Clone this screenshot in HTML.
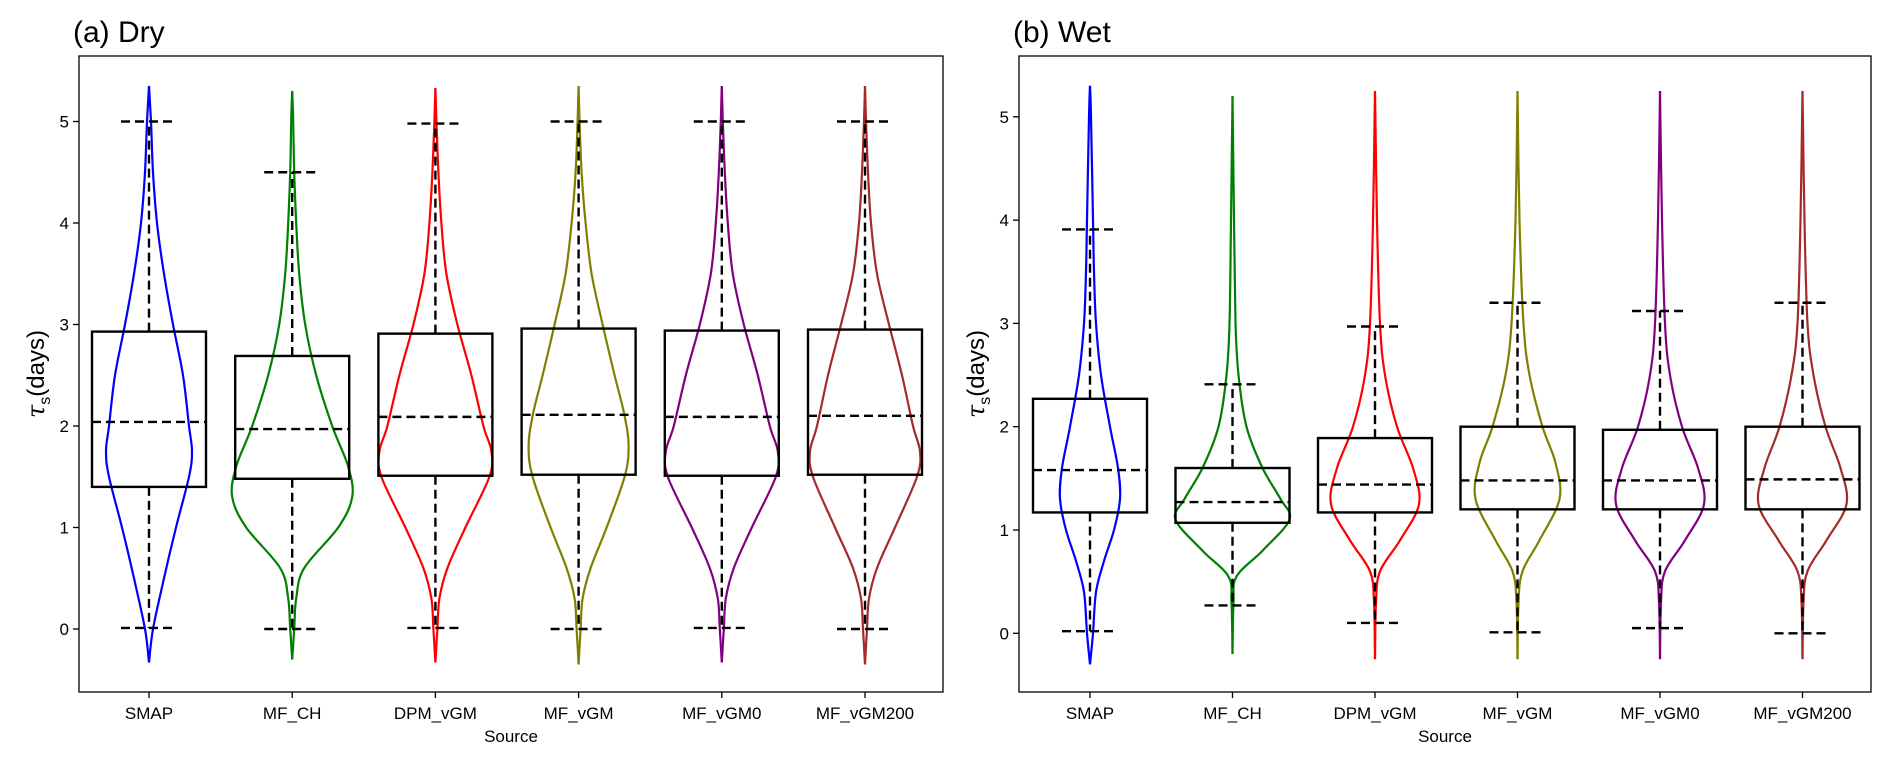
<!DOCTYPE html>
<html><head><meta charset="utf-8">
<style>
body{margin:0;background:#fff;}
svg{display:block;font-family:"Liberation Sans","DejaVu Sans",sans-serif;}
</style></head>
<body>
<svg id="fig" width="1892" height="767" viewBox="0 0 1892 767"></svg>
<script>
const categories = ["SMAP","MF_CH","DPM_vGM","MF_vGM","MF_vGM0","MF_vGM200"];
const colors = ["#0000ff","#008000","#ff0000","#808000","#800080","#a52a2a"];
// Dry panel box stats
const dryQ1 = [1.40,1.48,1.51,1.52,1.51,1.52];
const dryMed = [2.04,1.97,2.09,2.11,2.09,2.10];
const dryQ3 = [2.93,2.69,2.91,2.96,2.94,2.95];
const dryLo = [0.01,0.00,0.01,0.00,0.01,0.00];
const dryHi = [5.00,4.50,4.98,5.00,5.00,5.00];
// Wet panel box stats
const wetQ1 = [1.17,1.07,1.17,1.20,1.20,1.20];
const wetMed = [1.58,1.27,1.44,1.48,1.48,1.49];
const wetQ3 = [2.27,1.60,1.89,2.00,1.97,2.00];
const wetLo = [0.02,0.27,0.10,0.01,0.05,0.00];
const wetHi = [3.91,2.41,2.97,3.20,3.12,3.20];
// Violin density profiles: value levels and relative half-widths
const dryVY = [
 [-0.33,0,0.5,1,1.5,1.75,2,2.5,3,3.5,4,4.5,5,5.35],
 [-0.3,0,0.3,0.6,1,1.3,1.6,2,2.5,3,3.5,4,4.5,5,5.3],
 [-0.33,0,0.3,0.6,1,1.5,1.75,2,2.5,3,3.5,4,4.5,5,5.33],
 [-0.35,0,0.3,0.6,1,1.5,1.8,2.1,2.5,3,3.5,4,4.5,5,5.35],
 [-0.33,0,0.3,0.6,1,1.5,1.75,2,2.5,3,3.5,4,4.5,5,5.35],
 [-0.35,0,0.3,0.6,1,1.5,1.75,2,2.5,3,3.5,4,4.5,5,5.35]];
const dryVW = [
 [0,4,15,27,40,43,40,34,24,15,8,4,2,0],
 [0,2,4,12,46,60,56,40,24,13,7,4,2,1,0],
 [0,2,4,12,30,54,56,48,36,22,11,6,3,1,0],
 [0,2,4,12,28,46,50,46,36,24,13,7,3,1,0],
 [0,2,4,12,30,54,56,48,36,22,11,6,3,1,0],
 [0,2,4,12,30,52,55,48,37,24,12,6,3,1,0]];
const wetVY = [
 [-0.3,0,0.4,0.7,1,1.3,1.6,2,2.5,3,3.5,4,5,5.3],
 [-0.2,0.3,0.55,0.8,1.1,1.3,1.6,2,2.5,3,4,5.2],
 [-0.25,0.3,0.6,0.9,1.25,1.6,2,2.5,3,4,5.25],
 [-0.25,0.3,0.6,0.9,1.3,1.65,2,2.5,3,4,5.25],
 [-0.25,0.3,0.6,0.9,1.25,1.6,2,2.5,3,4,5.25],
 [-0.25,0.3,0.6,0.9,1.25,1.6,2,2.5,3,4,5.25]];
const wetVW = [
 [0,3,6,14,24,30,28,20,11,6,4,3,1,0],
 [0,1,4,30,57,48,30,14,6,3,1.5,0],
 [0,1,5,25,44,38,22,10,5,2,0],
 [0,1,5,22,42,38,25,12,6,2,0],
 [0,1,5,25,44,38,22,10,5,2,0],
 [0,1,5,24,44,38,23,11,5,2,0]];
const yTicks = [0,1,2,3,4,5];

const NS="http://www.w3.org/2000/svg";
const svg=document.getElementById('fig');
function mk(tag,attrs,parent){const e=document.createElementNS(NS,tag);for(const k in attrs)e.setAttribute(k,attrs[k]);(parent||svg).appendChild(e);return e;}

function smooth(pts){
  let d="M"+pts[0][0].toFixed(1)+","+pts[0][1].toFixed(1);
  for(let i=0;i<pts.length-1;i++){
    const p0=pts[Math.max(0,i-1)],p1=pts[i],p2=pts[i+1],p3=pts[Math.min(pts.length-1,i+2)];
    const c1=[p1[0]+(p2[0]-p0[0])/6,p1[1]+(p2[1]-p0[1])/6];
    const c2=[p2[0]-(p3[0]-p1[0])/6,p2[1]-(p3[1]-p1[1])/6];
    d+=" C"+c1[0].toFixed(1)+","+c1[1].toFixed(1)+" "+c2[0].toFixed(1)+","+c2[1].toFixed(1)+" "+p2[0].toFixed(1)+","+p2[1].toFixed(1);
  }
  return d;
}

function panel(cfg){
  const g=mk('g',{});
  
  
  const yS=v=>cfg.y0-v*cfg.ppu;
  const xS=i=>cfg.c0+i*cfg.step;
  // violins
  for(let i=0;i<categories.length;i++){
    const cx=xS(i);
    const ys=cfg.vy[i],ws=cfg.vw[i];
    const right=ys.map((v,k)=>[cx+ws[k],yS(v)]);
    const left=ys.map((v,k)=>[cx-ws[k],yS(v)]);
    const p1=mk('path',{d:smooth(right),fill:'none',stroke:colors[i],'stroke-width':2.2},g);
    
    
    const p2=mk('path',{d:smooth(left),fill:'none',stroke:colors[i],'stroke-width':2.2},g);
    
    
  }
  // boxes
  for(let i=0;i<categories.length;i++){
    const cx=xS(i);
    const bg=mk('g',{},g);
    
    
    const dash={stroke:'#000','stroke-width':2.4,'stroke-dasharray':'9,5',fill:'none'};
    mk('line',Object.assign({x1:cx,x2:cx,y1:yS(cfg.q3[i]),y2:yS(cfg.hi[i])},dash),bg);
    mk('line',Object.assign({x1:cx,x2:cx,y1:yS(cfg.q1[i]),y2:yS(cfg.lo[i])},dash),bg);
    mk('line',Object.assign({x1:cx-28,x2:cx+28,y1:yS(cfg.hi[i]),y2:yS(cfg.hi[i])},dash),bg);
    mk('line',Object.assign({x1:cx-28,x2:cx+28,y1:yS(cfg.lo[i]),y2:yS(cfg.lo[i])},dash),bg);
    mk('rect',{x:cx-57,y:yS(cfg.q3[i]),width:114,height:yS(cfg.q1[i])-yS(cfg.q3[i]),fill:'none',stroke:'#000','stroke-width':2.4},bg);
    mk('line',Object.assign({x1:cx-57,x2:cx+57,y1:yS(cfg.med[i]),y2:yS(cfg.med[i])},dash),bg);
  }
  // frame
  const fr=mk('rect',{x:cfg.x1,y:cfg.top,width:cfg.x2-cfg.x1,height:cfg.bot-cfg.top,fill:'none',stroke:'#000','stroke-width':1.3},g);
  
  
  // y ticks
  for(const v of yTicks){
    const y=yS(v);
    mk('line',{x1:cfg.x1-6,x2:cfg.x1,y1:y,y2:y,stroke:'#000','stroke-width':1.3},g);
    const t=mk('text',{x:cfg.x1-10,y:y+6,'text-anchor':'end','font-size':17},g);
    t.textContent=v;
    
    
  }
  // x ticks
  for(let i=0;i<categories.length;i++){
    const x=xS(i);
    mk('line',{x1:x,x2:x,y1:cfg.bot,y2:cfg.bot+6,stroke:'#000','stroke-width':1.3},g);
    const t=mk('text',{x:x,y:cfg.bot+27,'text-anchor':'middle','font-size':17},g);
    t.textContent=categories[i];
    
    
  }
  const xl=mk('text',{x:(cfg.x1+cfg.x2)/2,y:cfg.bot+50,'text-anchor':'middle','font-size':17},g);
  xl.textContent='Source';
  
  
  const yl=mk('text',{x:0,y:0,'text-anchor':'middle','font-size':24,transform:'translate('+(cfg.x1-35)+','+((cfg.top+cfg.bot)/2)+') rotate(-90)'},g);
  yl.innerHTML='<tspan font-family="DejaVu Serif, serif" font-style="italic">τ</tspan><tspan font-size="16" dy="6">s</tspan><tspan dy="-6">(days)</tspan>';
  
  
  const ti=mk('text',{x:cfg.x1-6,y:cfg.top-14,'font-size':30},g);
  ti.textContent=cfg.title;
  
  
}

panel({name:'dry-panel',title:'(a) Dry',x1:79,x2:943,top:56,bot:692,y0:629,ppu:101.5,c0:149,step:143.2,
  q1:dryQ1,med:dryMed,q3:dryQ3,lo:dryLo,hi:dryHi,vy:dryVY,vw:dryVW});
panel({name:'wet-panel',title:'(b) Wet',x1:1019,x2:1871,top:56,bot:692,y0:633.3,ppu:103.3,c0:1090,step:142.5,
  q1:wetQ1,med:wetMed,q3:wetQ3,lo:wetLo,hi:wetHi,vy:wetVY,vw:wetVW});
</script>
</body></html>
